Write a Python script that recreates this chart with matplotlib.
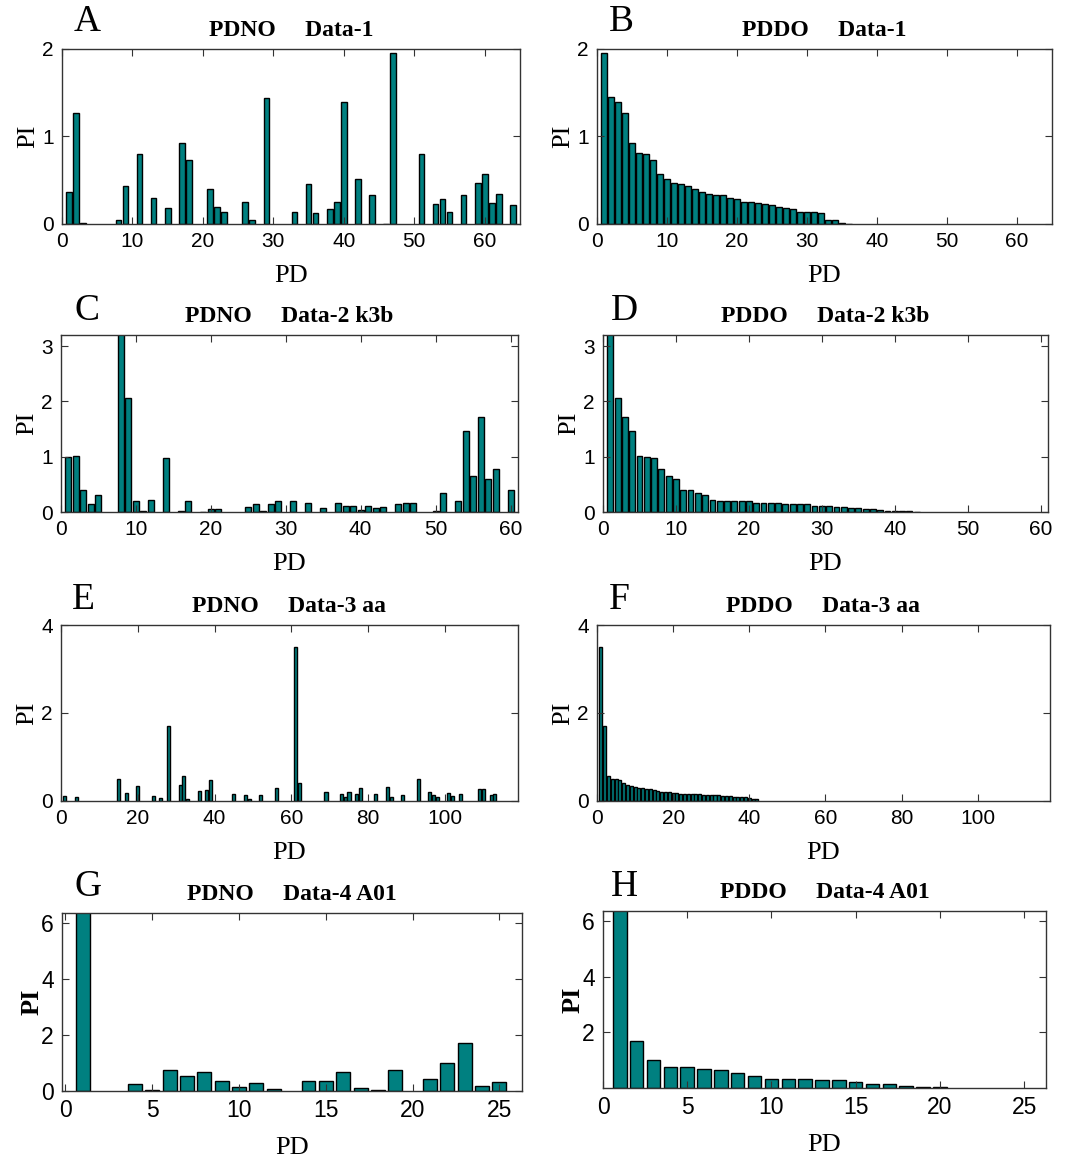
import matplotlib
matplotlib.use('Agg')
import matplotlib.pyplot as plt
import matplotlib.ticker as ticker

# ---- data ----
pd_a = [1, 2, 3, 8, 9, 11, 13, 15, 17, 18, 21, 22, 23, 26, 27, 29, 33, 35, 36, 38,
        39, 40, 42, 44, 46, 47, 51, 53, 54, 55, 57, 59, 60, 61, 62, 64]
pi_a = [0.36, 1.27, 0.01, 0.05, 0.435, 0.80, 0.30, 0.18, 0.93, 0.73, 0.40, 0.19, 0.14,
        0.25, 0.05, 1.44, 0.14, 0.46, 0.13, 0.17, 0.25, 1.39, 0.51, 0.33, 0.005, 1.96,
        0.80, 0.23, 0.29, 0.14, 0.33, 0.47, 0.57, 0.24, 0.34, 0.22]
pi_b = [1.96, 1.45, 1.39, 1.27, 0.93, 0.81, 0.80, 0.73, 0.57, 0.51, 0.47, 0.46, 0.435,
        0.40, 0.36, 0.34, 0.33, 0.33, 0.30, 0.29, 0.25, 0.25, 0.24, 0.23, 0.22, 0.19,
        0.18, 0.17, 0.14, 0.14, 0.14, 0.13, 0.05, 0.05, 0.01, 0.005]

pd_c = [1, 2, 3, 4, 5, 8, 9, 10, 11, 12, 14, 16, 17, 19, 20, 21, 25, 26, 27, 28, 29,
        31, 33, 35, 37, 38, 39, 40, 41, 42, 43, 45, 46, 47, 50, 51, 53, 54, 55, 56, 57,
        58, 60]
pi_c = [1.0, 1.02, 0.40, 0.14, 0.31, 3.3, 2.07, 0.20, 0.02, 0.22, 0.97, 0.01, 0.19,
        0.005, 0.06, 0.055, 0.085, 0.14, 0.025, 0.14, 0.19, 0.19, 0.17, 0.065, 0.17,
        0.11, 0.10, 0.03, 0.10, 0.08, 0.085, 0.14, 0.16, 0.16, 0.02, 0.35, 0.19, 1.47,
        0.65, 1.71, 0.60, 0.78, 0.40]
pi_d = [3.3, 2.07, 1.71, 1.47, 1.02, 1.0, 0.97, 0.78, 0.65, 0.60, 0.40, 0.40, 0.35,
        0.31, 0.22, 0.20, 0.19, 0.19, 0.19, 0.19, 0.17, 0.17, 0.16, 0.16, 0.14, 0.14,
        0.14, 0.14, 0.11, 0.10, 0.10, 0.085, 0.085, 0.08, 0.065, 0.06, 0.055, 0.03,
        0.025, 0.02, 0.02, 0.01, 0.005]

pd_e = [1, 4, 15, 17, 20, 24, 26, 28, 31, 32, 33, 36, 38, 39, 45, 48, 49, 52, 56, 61,
        62, 69, 73, 74, 75, 77, 78, 82, 85, 86, 89, 93, 96, 97, 98, 101, 102, 104, 109,
        110, 112, 113]
pi_e = [0.12, 0.10, 0.50, 0.19, 0.35, 0.12, 0.07, 1.70, 0.37, 0.56, 0.04, 0.22, 0.24,
        0.47, 0.15, 0.14, 0.05, 0.14, 0.29, 3.50, 0.40, 0.21, 0.15, 0.09, 0.21, 0.15,
        0.29, 0.17, 0.31, 0.10, 0.13, 0.50, 0.21, 0.13, 0.08, 0.19, 0.12, 0.15, 0.27,
        0.27, 0.13, 0.17]
pi_f = [3.50, 1.70, 0.56, 0.50, 0.50, 0.47, 0.40, 0.37, 0.35, 0.31, 0.29, 0.29, 0.27,
        0.27, 0.24, 0.22, 0.21, 0.21, 0.21, 0.19, 0.19, 0.17, 0.17, 0.15, 0.15, 0.15,
        0.15, 0.14, 0.14, 0.13, 0.13, 0.13, 0.12, 0.12, 0.12, 0.10, 0.10, 0.09, 0.08,
        0.07, 0.05, 0.04]

pd_g = [1, 4, 5, 6, 7, 8, 9, 10, 11, 12, 14, 15, 16, 17, 18, 19, 21, 22, 23, 24, 25]
pi_g = [6.5, 0.25, 0.04, 0.75, 0.55, 0.67, 0.35, 0.155, 0.30, 0.07, 0.35, 0.35, 0.68,
        0.11, 0.04, 0.76, 0.44, 1.00, 1.71, 0.19, 0.31]
pi_h = [6.5, 1.68, 0.99, 0.76, 0.74, 0.67, 0.65, 0.53, 0.43, 0.33, 0.33, 0.33, 0.28,
        0.27, 0.22, 0.16, 0.14, 0.07, 0.05, 0.02]

W, H = 1069, 1160
SERIF = ['Liberation Serif', 'DejaVu Serif']
NARROW = ['Liberation Sans Narrow', 'Liberation Sans', 'DejaVu Sans']
TEAL = '#008080'

fig = plt.figure(figsize=(W / 100, H / 100), dpi=100)


def box(l, t, r, b):
    return [l / W, 1 - b / H, (r - l) / W, (b - t) / H]


def panel(rect, x, y, xlim, xstep, ylim, yticks, letter, title, lab, big=False):
    ax = fig.add_axes(box(*rect))
    ax.bar(x, y, width=0.8, color=TEAL, edgecolor='black', linewidth=1.0)
    ax.set_xlim(*xlim)
    ax.set_ylim(*ylim)
    ax.xaxis.set_major_locator(ticker.MultipleLocator(xstep))
    ax.set_yticks(yticks)
    fs = 16.5 if big else 15
    ax.tick_params(direction='in', top=True, right=True, length=5, width=0.8,
                   labelsize=fs, pad=6, color='#333333')
    for t in ax.get_xticklabels() + ax.get_yticklabels():
        t.set_family(NARROW)
    for s in ax.spines.values():
        s.set_color('#333333')
        s.set_linewidth(1.0)
    l, t, r, b = rect
    cx = (l + r) / 2
    fig.text(lab[0] / W, 1 - lab[1] / H, letter, family=SERIF, fontsize=27,
             ha='left', va='center')
    fig.text(cx / W, 1 - (t - 18) / H, title, family=SERIF, fontsize=17,
             fontweight='bold', ha='center', va='center')
    fig.text(cx / W, 1 - (b + (57 if big else 52)) / H, 'PD', family=SERIF, fontsize=19,
             ha='center', va='center')
    fig.text((l - (30 if big else 34)) / W, 1 - ((t + b) / 2) / H, 'PI', family=SERIF,
             fontsize=19, rotation=90, ha='center', va='center',
             fontweight='bold' if big else 'normal')
    return ax


panel((62, 49, 520, 224), pd_a, pi_a, (0, 65), 10, (0, 2), [0, 1, 2],
      'A', 'PDNO     Data-1', (74, 22))
panel((597, 49, 1052, 224), range(1, len(pi_b) + 1), pi_b, (0, 65), 10, (0, 2), [0, 1, 2],
      'B', 'PDDO     Data-1', (609, 22))
panel((61, 335, 518, 512), pd_c, pi_c, (0, 61), 10, (0, 3.2), [0, 1, 2, 3],
      'C', 'PDNO     Data-2 k3b', (74, 311))
panel((603, 335, 1048, 512), range(1, len(pi_d) + 1), pi_d, (0, 61), 10, (0, 3.2), [0, 1, 2, 3],
      'D', 'PDDO     Data-2 k3b', (611, 311))
panel((61, 625, 518, 801), pd_e, pi_e, (0, 119), 20, (0, 4), [0, 2, 4],
      'E', 'PDNO     Data-3 aa', (72, 600))
panel((597, 625, 1050, 801), range(1, len(pi_f) + 1), pi_f, (0, 119), 20, (0, 4), [0, 2, 4],
      'F', 'PDDO     Data-3 aa', (609, 600))
panel((62, 913, 522, 1091), pd_g, pi_g, (-0.2, 26.3), 5, (0, 6.35), [0, 2, 4, 6],
      'G', 'PDNO     Data-4 A01', (74, 887), big=True)
panel((603, 911, 1046, 1088), range(1, len(pi_h) + 1), pi_h, (0, 26.3), 5, (0, 6.35), [2, 4, 6],
      'H', 'PDDO     Data-4 A01', (611, 887), big=True)

fig.savefig('out.png', dpi=100, facecolor='white')
